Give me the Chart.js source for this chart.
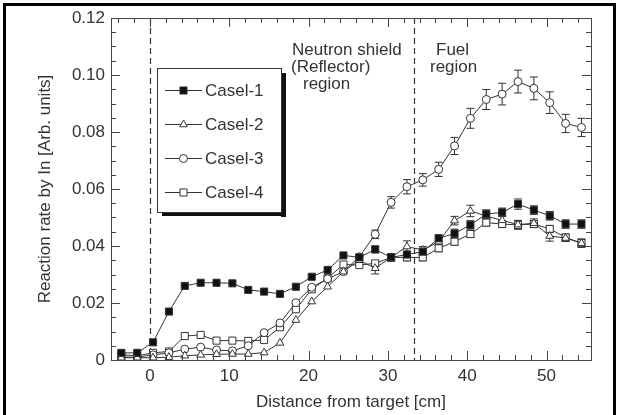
<!DOCTYPE html>
<html><head><meta charset="utf-8">
<script src="https://cdn.jsdelivr.net/npm/chart.js@4/dist/chart.umd.min.js"></script>
<style>html,body{margin:0;padding:0;background:#fff;}#wrap{position:relative;width:619px;height:415px;}</style>
</head><body><div id="wrap"><canvas id="c" width="619" height="415"></canvas></div>
<script>
// ---- data ----
const distances = [-3.6,-1.6,0.4,2.4,4.4,6.4,8.4,10.4,12.4,14.4,16.4,18.4,20.4,22.4,24.4,26.4,28.4,30.4,32.4,34.4,36.4,38.4,40.4,42.4,44.4,46.4,48.4,50.4,52.4,54.4];
const case1 = [0.0025,0.0025,0.0062,0.017,0.026,0.0271,0.0271,0.0269,0.0246,0.024,0.0232,0.0257,0.0292,0.0316,0.0367,0.036,0.0388,0.036,0.037,0.038,0.0427,0.0444,0.0474,0.0512,0.0518,0.0547,0.0526,0.0506,0.0477,0.0477];
const case2 = [0.0008,0.0008,0.0008,0.001,0.0015,0.0018,0.002,0.0021,0.0021,0.0026,0.006,0.014,0.0205,0.0257,0.031,0.035,0.0322,0.036,0.0398,0.0386,0.0415,0.0489,0.0523,0.0505,0.049,0.0475,0.048,0.0435,0.0428,0.041];
const case3 = [0.001,0.001,0.0018,0.0025,0.0038,0.0045,0.0035,0.0032,0.005,0.0096,0.013,0.0201,0.0255,0.0285,0.031,0.0362,0.0441,0.0553,0.0608,0.0632,0.0669,0.0751,0.0848,0.0914,0.0933,0.0977,0.0953,0.0903,0.083,0.0816];
const case4 = [0.0018,0.0015,0.0025,0.003,0.0084,0.0088,0.0068,0.0068,0.0067,0.007,0.0115,0.0178,0.0248,0.0287,0.0335,0.0333,0.0339,0.036,0.036,0.036,0.0392,0.0415,0.0442,0.0482,0.0477,0.0474,0.0477,0.046,0.043,0.041];
const err1 = [0,0,0,0,0,0,0,0,0,0,0,0,0,0,0,0.001,0.0012,0.0012,0.0012,0.0012,0.0012,0.0015,0.0015,0.0015,0.0015,0.0018,0.0015,0.0015,0.0015,0.0015];
const err2 = [0,0,0,0,0,0,0,0,0,0,0,0,0,0,0,0,0.002,0.0012,0.002,0.0012,0.0012,0.0015,0.002,0.0015,0.0015,0.0015,0.0015,0.0018,0.0012,0.0015];
const err3 = [0,0,0,0,0,0,0,0,0,0,0,0,0,0,0,0.001,0.0015,0.002,0.0025,0.0022,0.0025,0.003,0.0035,0.0035,0.0038,0.004,0.004,0.0038,0.0032,0.0032];
const err4 = [0,0,0,0,0,0,0,0,0,0,0,0,0,0,0,0,0.001,0.0012,0.0012,0.0012,0.0012,0.0012,0.0012,0.0012,0.0012,0.0015,0.0012,0.0012,0.0012,0.0012];
const seriesNames = ['Casel-1','Casel-2','Casel-3','Casel-4'];
const xTickLabels = [0,10,20,30,40,50];
const yTickLabels = [0,0.02,0.04,0.06,0.08,0.10,0.12];
const regionBoundaries = [0,33.3];

const INK = '#333';
const FONT = "'Liberation Sans', Arial, sans-serif";
const seriesValues = [case1,case2,case3,case4];
const seriesErrors = [err1,err2,err3,err4];
const styles = [
  {pointStyle:'rect', radius:5, fill:'#111'},
  {pointStyle:'triangle', radius:4.5, fill:'#fff'},
  {pointStyle:'circle', radius:4, fill:'#fff'},
  {pointStyle:'rect', radius:5, fill:'#fff'}
];

const datasets = seriesNames.map((name,i)=>({
  label: name,
  data: distances.map((d,k)=>({x:d, y:seriesValues[i][k]})),
  borderColor: INK, borderWidth: 1,
  pointStyle: styles[i].pointStyle, pointRadius: styles[i].radius,
  pointBackgroundColor: styles[i].fill, pointBorderColor: INK, pointBorderWidth: 1,
  tension: 0, fill: false
}));

function drawMarker(ctx, st, x, y){
  if (Chart.helpers && Chart.helpers.drawPoint){
    ctx.save(); ctx.fillStyle = st.fill; ctx.strokeStyle = INK; ctx.lineWidth = 1;
    Chart.helpers.drawPoint(ctx, {pointStyle: st.pointStyle, radius: st.radius, rotation: 0, borderWidth: 1}, x, y);
    ctx.restore();
  }
}

const deco = {
  id: 'deco',
  beforeDatasetsDraw(chart){
    const {ctx, chartArea:a, scales:{x, y}} = chart;
    ctx.save();
    ctx.strokeStyle = INK; ctx.lineWidth = 1.2; ctx.setLineDash([6,4]);
    regionBoundaries.forEach(v=>{
      const px = Math.round(x.getPixelForValue(v))+0.5;
      ctx.beginPath(); ctx.moveTo(px, a.top); ctx.lineTo(px, a.bottom); ctx.stroke();
    });
    ctx.setLineDash([]);
    ctx.lineWidth = 1; ctx.strokeStyle = INK;
    chart.data.datasets.forEach((ds,di)=>{
      const errs = seriesErrors[di];
      ds.data.forEach((p,i)=>{
        const e = errs[i]; if (!e) return;
        const px = x.getPixelForValue(p.x);
        const yt = y.getPixelForValue(p.y+e), yb = y.getPixelForValue(p.y-e);
        ctx.beginPath();
        ctx.moveTo(px, yt); ctx.lineTo(px, yb);
        ctx.moveTo(px-4, yt); ctx.lineTo(px+4, yt);
        ctx.moveTo(px-4, yb); ctx.lineTo(px+4, yb);
        ctx.stroke();
      });
    });
    ctx.restore();
  },
  afterDraw(chart){
    const {ctx, chartArea:a, scales:{x, y}} = chart;
    ctx.save();
    ctx.strokeStyle = '#444'; ctx.lineWidth = 1;
    ctx.strokeRect(Math.round(a.left)+0.5, Math.round(a.top)+0.5, Math.round(a.right-a.left), Math.round(a.bottom-a.top));
    ctx.beginPath();
    for (let v=-4; v<=54; v+=2){
      const px = Math.round(x.getPixelForValue(v))+0.5;
      const len = (v%10===0) ? 9 : 5;
      ctx.moveTo(px, a.bottom); ctx.lineTo(px, a.bottom-len);
      ctx.moveTo(px, a.top); ctx.lineTo(px, a.top+len);
    }
    for (let k=0; k<=24; k++){
      const v = k*0.005;
      const py = Math.round(y.getPixelForValue(v))+0.5;
      const len = (k%4===0) ? 9 : 5;
      ctx.moveTo(a.left, py); ctx.lineTo(a.left+len, py);
      ctx.moveTo(a.right, py); ctx.lineTo(a.right-len, py);
    }
    ctx.stroke();
    ctx.fillStyle = INK; ctx.font = '17px ' + FONT; ctx.textBaseline = 'middle'; ctx.textAlign = 'left';
    ctx.fillText('Neutron shield', 292, 50);
    ctx.fillText('(Reflector)', 291, 67);
    ctx.fillText('region', 303, 84);
    ctx.fillText('Fuel', 436, 50);
    ctx.fillText('region', 430, 67);
    const L = {x:157, y:68, w:124, h:144};
    ctx.fillStyle = '#111';
    ctx.fillRect(L.x+L.w, L.y+5, 5, L.h);
    ctx.fillRect(L.x+5, L.y+L.h, L.w, 4);
    ctx.fillStyle = '#fff'; ctx.fillRect(L.x, L.y, L.w, L.h);
    ctx.strokeStyle = '#333'; ctx.lineWidth = 1;
    ctx.strokeRect(L.x+0.5, L.y+0.5, L.w, L.h);
    const rows = [90,124,158,192];
    seriesNames.forEach((name,i)=>{
      const ry = rows[i];
      ctx.strokeStyle = INK; ctx.lineWidth = 1.2;
      ctx.beginPath(); ctx.moveTo(165, ry+0.5); ctx.lineTo(202, ry+0.5); ctx.stroke();
      drawMarker(ctx, styles[i], 183.5, ry+0.5);
      ctx.fillStyle = INK; ctx.font = '17px ' + FONT; ctx.textBaseline='middle'; ctx.textAlign='left';
      ctx.fillText(name, 205, ry+1);
    });
    ctx.fillStyle = '#000';
    ctx.fillRect(3, 3, 613, 3);
    ctx.fillRect(3, 3, 3, 412);
    ctx.fillRect(613, 3, 3, 412);
    ctx.restore();
  }
};

new Chart(document.getElementById('c'), {
  type: 'line',
  data: { datasets },
  options: {
    responsive: false, animation: false, devicePixelRatio: 1,
    layout: { padding: { left: 0, top: 18, right: 28, bottom: 2 } },
    plugins: { legend: {display:false}, tooltip: {enabled:false} },
    scales: {
      x: {
        type: 'linear', min: -4.9, max: 55.6,
        grid: { display: false, drawTicks: false },
        border: { display: false },
        afterBuildTicks: s => { s.ticks = xTickLabels.map(v=>({value:v})); },
        afterFit: s => { s.height = 415 - 360 - 2; },
        ticks: { color: INK, font: {size: 17, family: FONT}, padding: 6, maxRotation: 0, autoSkip: false, callback: v => String(v) },
        title: { display: true, text: 'Distance from target [cm]', color: INK, font: {size: 17, family: FONT}, padding: {top: 0, bottom: 0} }
      },
      y: {
        type: 'linear', min: 0, max: 0.12,
        grid: { display: false, drawTicks: false },
        border: { display: false },
        afterBuildTicks: s => { s.ticks = yTickLabels.map(v=>({value:v})); },
        afterFit: s => { s.width = 111; },
        ticks: { color: INK, font: {size: 17, family: FONT}, padding: 6, autoSkip: false, callback: v => v===0 ? '0' : v.toFixed(2) },
        title: { display: true, text: 'Reaction rate by In [Arb. units]', color: INK, font: {size: 17, family: FONT}, padding: {top: 35, bottom: 0} }
      }
    }
  },
  plugins: [deco]
});
</script>
</body></html>
